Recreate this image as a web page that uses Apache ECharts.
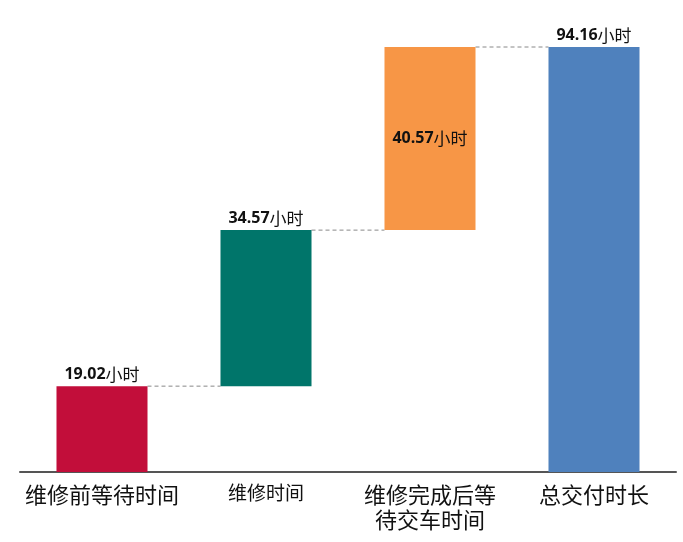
<!DOCTYPE html>
<html>
<head>
<meta charset="utf-8">
<script src="https://cdn.jsdelivr.net/npm/echarts@6/dist/echarts.min.js"></script>
<style>html,body{margin:0;padding:0;background:#fff;}#c{width:683px;height:542px;}</style>
</head>
<body>
<div id="c"></div>
<script>
const categories = ['维修前等待时间', '维修时间', '维修完成后等\n待交车时间', '总交付时长'];
const values = [19.02, 34.57, 40.57, 94.16];
const isTotal = [false, false, false, true];
const colors = ['#C20E3A', '#00756A', '#F79646', '#4F81BD'];
const unit = '小时';

// derived waterfall bases
const bases = [];
let run = 0;
values.forEach((v, i) => {
  if (isTotal[i]) { bases.push(0); run = v; }
  else { bases.push(run); run += v; }
});
const tops = values.map((v, i) => bases[i] + v);
const connectors = [];
for (let i = 0; i < values.length - 1; i++) connectors.push([i, tops[i]]);

const BAR_RATIO = 0.555;
const chart = echarts.init(document.getElementById('c'), null, {renderer: 'canvas'});
const labelRich = {
  n: {fontFamily: '"Open Sans", sans-serif', fontWeight: 'bold', fontSize: 16, color: '#111'},
  u: {fontFamily: '"Noto Sans CJK SC"', fontSize: 17, color: '#111'}
};
chart.setOption({
  animation: false,
  backgroundColor: '#fff',
  grid: {left: 20, right: 7, top: 47, bottom: 70, containLabel: false, outerBoundsMode: 'none'},
  xAxis: {
    type: 'category',
    data: categories,
    axisTick: {show: false},
    axisLine: {lineStyle: {color: '#555', width: 2}},
    axisLabel: {
      margin: 10,
      interval: 0,
      formatter: (v, i) => {
        const k = i === 1 ? 's' : 'a';
        return v.split('\n').map(l => '{' + k + '|' + l + '}').join('\n');
      },
      rich: {
        a: {fontFamily: '"Noto Sans CJK SC"', fontSize: 22, lineHeight: 25, color: '#111'},
        s: {fontFamily: '"Noto Sans CJK SC"', fontSize: 19, lineHeight: 22, color: '#111'}
      }
    }
  },
  yAxis: {type: 'value', min: 0, max: tops[tops.length - 1], show: false, splitLine: {show: false}},
  series: [
    {
      type: 'bar', stack: 'w', barWidth: (BAR_RATIO * 100) + '%',
      itemStyle: {color: 'transparent'}, silent: true,
      data: bases
    },
    {
      type: 'bar', stack: 'w', barWidth: (BAR_RATIO * 100) + '%',
      data: values.map((v, i) => ({
        value: v,
        itemStyle: {color: colors[i]},
        label: {
          show: true,
          position: i === 2 ? 'inside' : 'top',
          distance: 3,
          formatter: '{n|' + v.toFixed(2) + '}{u|' + unit + '}',
          rich: labelRich
        }
      }))
    },
    {
      type: 'custom',
      z: 1,
      silent: true,
      encode: {x: 0, y: 1},
      data: connectors,
      renderItem: (params, api) => {
        const i = api.value(0), v = api.value(1);
        const p1 = api.coord([i, v]);
        const p2 = api.coord([i + 1, v]);
        const half = api.size([1, 0])[0] * BAR_RATIO / 2;
        return {
          type: 'line',
          shape: {x1: p1[0] + half, y1: p1[1], x2: p2[0] - half, y2: p2[1]},
          style: {stroke: '#888', lineWidth: 1, lineDash: [4, 3]}
        };
      }
    }
  ]
});
</script>
</body>
</html>
